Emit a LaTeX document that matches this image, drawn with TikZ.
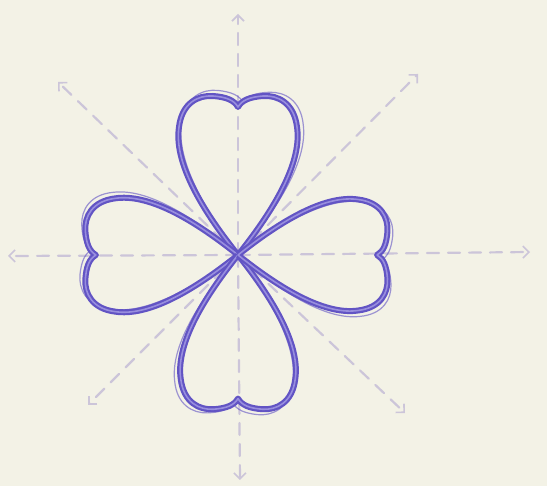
\documentclass[tikz,border=0pt]{standalone}
\usetikzlibrary{arrows.meta}
\definecolor{paper}{RGB}{243,242,230}
\definecolor{lobe}{RGB}{98,84,196}
\definecolor{lobelight}{RGB}{152,142,222}
\definecolor{axis}{RGB}{204,197,217}
\tikzset{
  axisline/.style={draw=axis, line width=2.2pt, dash pattern=on 12pt off 9pt, line cap=round,
    -{Straight Barb[length=6pt,width=12pt,line width=1.6pt]}},
  petal/.style={draw=lobe, line width=6pt, line join=round},
  petalinner/.style={draw=lobelight, line width=1.6pt, line join=round},
  petalghost/.style={draw=lobe, line width=1.2pt, opacity=0.6}
}
\def\mylobepath{(0,0) .. controls (-40,-50) and (-64,-95) .. (-59,-128)
  .. controls (-56,-152) and (-40,-160) .. (-25,-159)
  .. controls (-12,-158) and (-4,-155) .. (0,-148)
  .. controls (4,-155) and (12,-158) .. (25,-159)
  .. controls (40,-160) and (56,-152) .. (59,-128)
  .. controls (64,-95) and (40,-50) .. (0,0)}
\begin{document}
\begin{tikzpicture}[x=1pt,y=-1pt]
\fill[paper] (0,0) rectangle (547,486);
\useasboundingbox (0,0) rectangle (547,486);
\coordinate (o) at (238,255);
\coordinate (l) at (8,256);
\coordinate (r) at (530,252);
\coordinate (t) at (238,14);
\coordinate (b) at (240,480);
\coordinate (ul) at (58,82);
\coordinate (ur) at (418,74);
\coordinate (ll) at (88,405);
\coordinate (lr) at (405,413);
\foreach \e in {l,r,t,b,ul,ur,ll,lr}{
  \draw[axisline] (o) -- (\e);
}
\foreach \a/\s in {0/1, 90/0.96, 180/0.97, 270/0.94}{
  \begin{scope}[shift={(o)}, rotate=\a, scale=\s]
    \draw[petalghost, rotate=-2, scale=1.03] \mylobepath;
    \draw[petal] \mylobepath;
    \draw[petalinner] \mylobepath;
  \end{scope}
}
\end{tikzpicture}
\end{document}
